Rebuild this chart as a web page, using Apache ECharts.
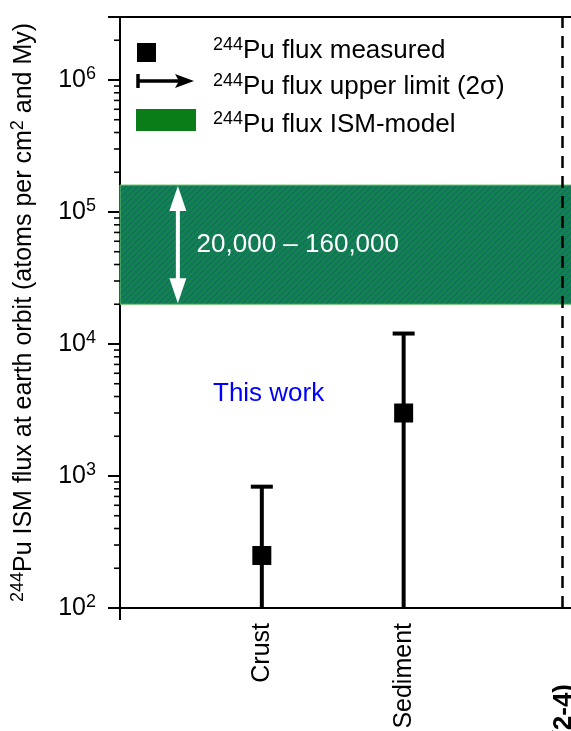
<!DOCTYPE html>
<html>
<head>
<meta charset="utf-8">
<script src="https://cdn.jsdelivr.net/npm/echarts@6/dist/echarts.min.js"></script>
<style>
  html, body { margin: 0; padding: 0; background: #ffffff; }
  #chart { width: 571px; height: 731px; }
</style>
</head>
<body>
<div id="chart"></div>
<script>
// Sample categories placed at integer positions along the x axis
const categories = ['', 'Crust', 'Sediment', ''];
const sampleX = [1, 2];

// 244Pu flux (atoms per cm^2 and My)
const measured = [250, 3000];
const upperError = [830, 12000];
const lowerError = [100, 100];      // error bars run down to the axis floor

// ISM-model flux range
const ismRange = [20000, 160000];
const ismLabel = '20,000 \u2013 160,000';

// Axis extent
const yMin = 100;
const yMax = 3000000;
const xMin = 0;
const xMax = 3.18;
const panelDivider = 3.12;

const FONT = '"Liberation Sans", Arial, Helvetica, sans-serif';

// minor log ticks (2..9 x 10^k) inside the y range
const minorTicks = [];
for (let k = 2; k <= 6; k++) {
  for (let m = 2; m <= 9; m++) {
    const v = m * Math.pow(10, k);
    if (v < yMax) minorTicks.push(v);
  }
}

// diagonal hatch used for the model band
function hatchPattern() {
  const c = document.createElement('canvas');
  const s = 6;
  c.width = s; c.height = s;
  const g = c.getContext('2d');
  g.fillStyle = '#0a8a46';
  g.fillRect(0, 0, s, s);
  g.strokeStyle = '#1d6a66';
  g.lineWidth = 1.6;
  g.beginPath();
  g.moveTo(-1, s + 1); g.lineTo(s + 1, -1);
  g.moveTo(-1, 1); g.lineTo(1, -1);
  g.moveTo(s - 1, s + 1); g.lineTo(s + 1, s - 1);
  g.stroke();
  return c;
}

const chart = echarts.init(document.getElementById('chart'), null, { renderer: 'canvas' });

function legendText(x, y, str) {
  return {
    type: 'text', left: x, top: y, z: 20,
    style: {
      text: str,
      fill: '#000',
      rich: {
        n: { fontSize: 26, fontFamily: FONT, fill: '#000' },
        s: { fontSize: 18, fontFamily: FONT, fill: '#000', padding: [0, 0, 12, 0] }
      }
    }
  };
}

const option = {
  animation: false,
  backgroundColor: '#ffffff',
  grid: { left: 120, top: 17, right: 0, bottom: 731 - 608, containLabel: false, outerBoundsMode: 'none' },
  xAxis: [
    {
      type: 'value', min: xMin, max: xMax, interval: 1,
      axisLine: { show: true, onZero: false, lineStyle: { color: '#000', width: 2 } },
      axisTick: { show: true, customValues: [0], length: 12, lineStyle: { color: '#000', width: 2 } },
      splitLine: { show: false },
      axisLabel: {
        customValues: sampleX,
        rotate: 90, margin: 15,
        fontSize: 25, fontFamily: FONT, color: '#000',
        formatter: v => categories[Math.round(v)] || ''
      }
    },
    {
      type: 'value', min: xMin, max: xMax, position: 'top',
      axisLine: { show: true, onZero: false, lineStyle: { color: '#000', width: 2 } },
      axisTick: { show: false }, axisLabel: { show: false }, splitLine: { show: false }
    }
  ],
  yAxis: {
    type: 'log', logBase: 10, min: yMin, max: yMax,
    name: '{s|244}{n|Pu ISM flux at earth orbit (atoms per cm}{s|2}{n| and My)}',
    nameLocation: 'middle', nameRotate: 90, nameGap: 81,
    nameTextStyle: {
      rich: {
        n: { fontSize: 25, fontFamily: FONT, color: '#000' },
        s: { fontSize: 18, fontFamily: FONT, color: '#000', padding: [0, 0, 12, 0] }
      }
    },
    axisLine: { show: true, lineStyle: { color: '#000', width: 2 } },
    axisTick: { show: true, length: 12, lineStyle: { color: '#000', width: 2 } },
    splitLine: { show: false },
    axisLabel: {
      margin: 24,
      formatter: v => {
        const e = Math.log10(v);
        const r = Math.round(e);
        if (Math.abs(e - r) > 1e-6 || v >= yMax) return '';
        return '{b|10}{p|' + r + '}';
      },
      rich: {
        b: { fontSize: 25, fontFamily: FONT, color: '#000' },
        p: { fontSize: 18, fontFamily: FONT, color: '#000', padding: [0, 0, 12, 0] }
      }
    }
  },
  series: [
    // ISM-model band with its range arrow and label
    {
      type: 'custom', name: 'ISM-model', z: 1, silent: true,
      data: [[ismRange[0], ismRange[1]]],
      renderItem: (params, api) => {
        const lo = api.value(0), hi = api.value(1);
        const pTop = api.coord([xMin, hi]);
        const pBot = api.coord([xMax, lo]);
        const ax = api.coord([0.408, lo])[0];
        const yT = pTop[1], yB = pBot[1];
        const headL = 26, headW = 8.5;
        return {
          type: 'group',
          children: [
            {
              type: 'rect',
              shape: { x: pTop[0], y: yT, width: pBot[0] - pTop[0] + 2, height: yB - yT },
              style: { fill: { image: hatchPattern(), repeat: 'repeat' }, stroke: '#6cc36c', lineWidth: 1 }
            },
            {
              type: 'line',
              shape: { x1: ax, y1: yT + headL - 2, x2: ax, y2: yB - headL + 2 },
              style: { stroke: '#fff', lineWidth: 4 }
            },
            {
              type: 'polygon',
              shape: { points: [[ax, yT + 1], [ax - headW, yT + headL], [ax + headW, yT + headL]] },
              style: { fill: '#fff' }
            },
            {
              type: 'polygon',
              shape: { points: [[ax, yB - 1], [ax - headW, yB - headL], [ax + headW, yB - headL]] },
              style: { fill: '#fff' }
            },
            {
              type: 'text',
              x: api.coord([0.54, lo])[0],
              y: (yT + yB) / 2,
              style: { text: ismLabel, font: '26px ' + FONT, fill: '#fff', verticalAlign: 'middle', align: 'left' }
            }
          ]
        };
      }
    },
    // minor ticks on the log axis
    {
      type: 'custom', name: 'minor', z: 2, silent: true,
      data: minorTicks.map(v => [v]),
      renderItem: (params, api) => {
        const p = api.coord([xMin, api.value(0)]);
        return {
          type: 'line',
          shape: { x1: p[0] - 6, y1: p[1], x2: p[0], y2: p[1] },
          style: { stroke: '#000', lineWidth: 1.6 }
        };
      },
      encode: { y: 0 }
    },
    // error bars (2 sigma)
    {
      type: 'custom', name: 'errors', z: 3, silent: true,
      data: sampleX.map((x, i) => [x, lowerError[i], upperError[i]]),
      renderItem: (params, api) => {
        const x = api.value(0);
        const pl = api.coord([x, api.value(1)]);
        const pu = api.coord([x, api.value(2)]);
        return {
          type: 'group',
          children: [
            { type: 'line', shape: { x1: pl[0], y1: pl[1], x2: pu[0], y2: pu[1] }, style: { stroke: '#000', lineWidth: 4 } },
            { type: 'line', shape: { x1: pu[0] - 11, y1: pu[1], x2: pu[0] + 11, y2: pu[1] }, style: { stroke: '#000', lineWidth: 4 } }
          ]
        };
      },
      encode: { x: 0, y: [1, 2] }
    },
    // measured values
    {
      type: 'scatter', name: 'measured', z: 4,
      symbol: 'rect', symbolSize: 19,
      itemStyle: { color: '#000', opacity: 1 },
      data: sampleX.map((x, i) => [x, measured[i]]),
      markLine: {
        silent: true, symbol: 'none',
        label: { show: false },
        lineStyle: { color: '#000', width: 2.5, type: [12, 8], opacity: 1 },
        data: [{ xAxis: panelDivider }]
      }
    }
  ],
  graphic: [
    // legend
    { type: 'rect', shape: { x: 137, y: 43, width: 19, height: 19 }, style: { fill: '#000' }, z: 20 },
    { type: 'line', shape: { x1: 138, y1: 81, x2: 180, y2: 81 }, style: { stroke: '#000', lineWidth: 3.5 }, z: 20 },
    { type: 'line', shape: { x1: 138, y1: 74, x2: 138, y2: 88 }, style: { stroke: '#000', lineWidth: 3.5 }, z: 20 },
    { type: 'polygon', shape: { points: [[194, 81], [175, 74], [179, 81], [175, 88]] }, style: { fill: '#000' }, z: 20 },
    { type: 'rect', shape: { x: 136, y: 109, width: 60, height: 22 }, style: { fill: '#0b7d18' }, z: 20 },
    legendText(213, 36, '{s|244}{n|Pu flux measured}'),
    legendText(213, 72, '{s|244}{n|Pu flux upper limit (2\u03c3)}'),
    legendText(213, 110, '{s|244}{n|Pu flux ISM-model}'),
    // annotation
    {
      type: 'text', left: 213, top: 381, z: 20,
      style: { text: 'This work', font: '26px ' + FONT, fill: '#0000ff' }
    },
    // clipped label of the neighbouring panel
    {
      type: 'text', x: 564, y: 684, rotation: Math.PI / 2, z: 20,
      style: { text: 'Crust (2-4)', font: 'bold 26px ' + FONT, fill: '#000', align: 'right', verticalAlign: 'middle' }
    }
  ]
};

chart.setOption(option);
</script>
</body>
</html>
